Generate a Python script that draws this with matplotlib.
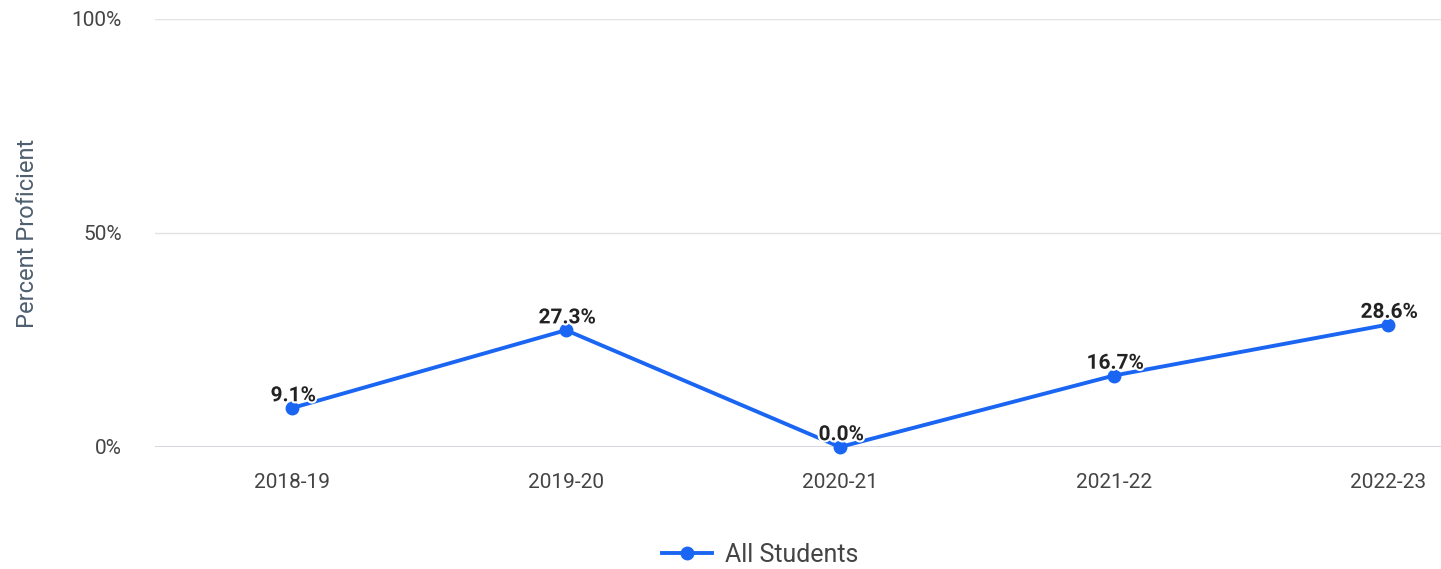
import matplotlib.pyplot as plt
import matplotlib.patheffects as pe

years = ["2018-19", "2019-20", "2020-21", "2021-22", "2022-23"]
pct = [9.1, 27.3, 0.0, 16.7, 28.6]
yticks = [0, 50, 100]

blue = "#1a66f2"
plt.rcParams['font.family'] = ['Roboto', 'DejaVu Sans']

fig = plt.figure(figsize=(14.41, 5.69), dpi=100)
# axes runs a bit past the right edge, like the cropped original
ax = fig.add_axes([155/1441, 122/569, 1370/1441, 428/569])

x = list(range(len(years)))
ax.plot(x, pct, color=blue, lw=2.8, marker="o", ms=9, clip_on=False,
        zorder=3, label="All Students")

for xi, v in zip(x, pct):
    ax.annotate(f"{v:.1f}%", (xi, v), xytext=(1, 2), textcoords="offset points",
                ha="center", va="bottom", fontsize=15, fontweight="bold",
                color="#222222", zorder=4,
                path_effects=[pe.withStroke(linewidth=3, foreground="white")])

ax.set_xlim(-0.5, 4.5)
ax.set_ylim(0, 100)
ax.set_yticks(yticks)
ax.set_yticklabels([f"{t}%" for t in yticks])
ax.set_xticks(x)
ax.set_xticklabels(years)
ax.grid(axis="y", color="#e3e3e3", lw=1)
ax.axhline(0, color="#c9cbe0", lw=1.2, zorder=1)
for s in ax.spines.values():
    s.set_visible(False)
ax.tick_params(length=0, labelsize=15, colors="#444444")
ax.tick_params(axis="y", pad=24)
ax.tick_params(axis="x", pad=19)
ax.set_ylabel("Percent Proficient", fontsize=17, color="#4f5f70", labelpad=23)

fig.legend(loc="center", bbox_to_anchor=(760/1441, 1 - 555/569), frameon=False,
           fontsize=18, labelcolor="#444444", handlelength=2.0, handletextpad=0.5)

fig.savefig("out.png", dpi=100)
